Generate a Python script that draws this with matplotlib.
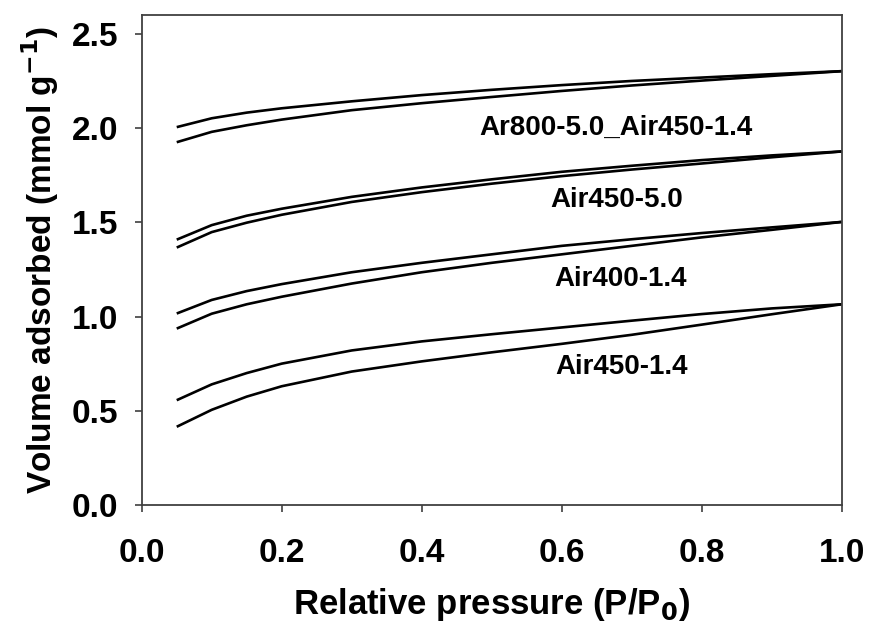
import matplotlib
matplotlib.use('Agg')
from matplotlib import pyplot as plt

plt.rcParams['font.family'] = ['Liberation Sans', 'DejaVu Sans']
plt.rcParams['font.weight'] = 'bold'
plt.rcParams['mathtext.default'] = 'bf'

# relative pressure P/P0
pressure = [0.05, 0.1, 0.15, 0.2, 0.3, 0.4, 0.5, 0.6, 0.7, 0.8, 0.9, 1.0]

# upper branch (desorption) and lower branch (adsorption), mmol/g
ar800_des = [2.005, 2.052, 2.082, 2.105, 2.142, 2.175, 2.203, 2.228, 2.250, 2.268, 2.286, 2.302]
ar800_ads = [1.925, 1.980, 2.015, 2.045, 2.095, 2.132, 2.165, 2.197, 2.226, 2.252, 2.277, 2.302]
air450_50_des = [1.408, 1.485, 1.535, 1.572, 1.635, 1.685, 1.728, 1.768, 1.800, 1.830, 1.855, 1.876]
air450_50_ads = [1.366, 1.448, 1.498, 1.540, 1.608, 1.660, 1.705, 1.745, 1.780, 1.812, 1.845, 1.876]
air400_14_des = [1.016, 1.088, 1.135, 1.172, 1.235, 1.285, 1.330, 1.375, 1.410, 1.443, 1.473, 1.502]
air400_14_ads = [0.936, 1.015, 1.065, 1.105, 1.175, 1.235, 1.285, 1.330, 1.375, 1.420, 1.460, 1.502]
air450_14_des = [0.556, 0.640, 0.700, 0.750, 0.820, 0.868, 0.906, 0.942, 0.978, 1.013, 1.043, 1.065]
air450_14_ads = [0.415, 0.505, 0.575, 0.630, 0.708, 0.762, 0.810, 0.855, 0.903, 0.957, 1.012, 1.065]

labels = ['Ar800-5.0_Air450-1.4', 'Air450-5.0', 'Air400-1.4', 'Air450-1.4']
label_x = [0.678, 0.678, 0.684, 0.686]
label_y = [1.963, 1.580, 1.160, 0.696]

fig = plt.figure(figsize=(8.7, 6.28), dpi=100)
ax = fig.add_axes([0.1629, 0.1959, 0.8046, 0.7802])

for branch in [ar800_des, ar800_ads, air450_50_des, air450_50_ads,
               air400_14_des, air400_14_ads, air450_14_des, air450_14_ads]:
    ax.plot(pressure, branch, color='black', lw=1.9, solid_capstyle='butt')

for name, lx, ly in zip(labels, label_x, label_y):
    ax.text(lx, ly, name, ha='center', va='baseline', fontsize=20, fontweight='bold')

ax.set_xlim(0, 1.0)
ax.set_ylim(0, 2.6)
ax.set_xticks([0.0, 0.2, 0.4, 0.6, 0.8, 1.0])
ax.set_yticks([0.0, 0.5, 1.0, 1.5, 2.0, 2.5])
ax.set_xticklabels(['0.0', '0.2', '0.4', '0.6', '0.8', '1.0'])
ax.set_yticklabels(['0.0', '0.5', '1.0', '1.5', '2.0', '2.5'])

for sp in ax.spines.values():
    sp.set_color('#404040')
    sp.set_linewidth(1.3)
ax.tick_params(axis='both', direction='out', length=5, width=1.2, color='#404040',
               labelsize=24)
ax.tick_params(axis='x', pad=19)
ax.tick_params(axis='y', pad=12)
ax.tick_params(top=False, right=False)

ax.set_xlabel('Relative pressure (P/P$_0$)', fontsize=25, fontweight='bold')
ax.set_ylabel('Volume adsorbed (mmol g$^{-1}$)', fontsize=24, fontweight='bold')
ax.xaxis.set_label_coords(0.5, -0.165)
ax.yaxis.set_label_coords(-0.116, 0.5)

fig.savefig('out.png', dpi=100)
